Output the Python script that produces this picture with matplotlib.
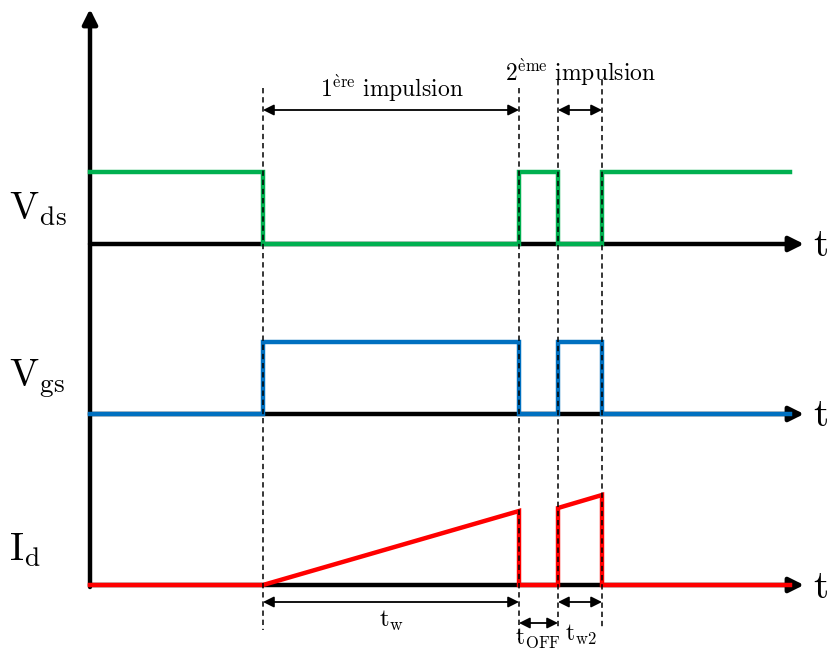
import matplotlib
matplotlib.use("Agg")
import matplotlib.pyplot as plt

plt.rcParams['mathtext.fontset'] = 'cm'
plt.rcParams['font.family'] = 'serif'

# time axis (drawing units, left to right)
t_axis = 90
t_end = 790
t_arrow = 804
switch_t = [263, 519, 558, 602]   # pulse 1 on, pulse 1 off, pulse 2 on, pulse 2 off

# baselines and amplitude of each trace (drawing units, top to bottom)
rows = ['Vds', 'Vgs', 'Id']
baseline = {'Vds': 244, 'Vgs': 414, 'Id': 585}
amp = 72
row_labels = {'Vds': r'$\mathrm{V_{ds}}$', 'Vgs': r'$\mathrm{V_{gs}}$', 'Id': r'$\mathrm{I_{d}}$'}

# logic level on each interval: before, pulse1, off, pulse2, after
vds_state = [1, 0, 1, 0, 1]
vgs_state = [0, 1, 0, 1, 0]
# drain current at interval edges (rise of ramp)
id_p1_end = 74
id_p2_start = 77
id_p2_end = 90

col = {'Vds': '#00b050', 'Vgs': '#0070c0', 'Id': '#ff0000'}


def step_trace(states, base):
    edges = [t_axis] + switch_t + [t_end]
    xs, ys = [], []
    for i, s in enumerate(states):
        xs += [edges[i], edges[i + 1]]
        ys += [base - s * amp, base - s * amp]
    return xs, ys


fig = plt.figure(figsize=(8.31, 6.52), dpi=100)
ax = fig.add_axes([0, 0, 1, 1])
ax.set_xlim(0, 831)
ax.set_ylim(652, 0)
ax.axis('off')

# vertical axis
ax.annotate('', xy=(t_axis, 9), xytext=(t_axis, baseline['Id'] + 2),
            arrowprops=dict(arrowstyle='-|>', lw=3.2, color='black', mutation_scale=22,
                            shrinkA=0, shrinkB=0), zorder=1)

# time axes
for r in rows:
    ax.annotate('', xy=(t_arrow, baseline[r]), xytext=(t_axis, baseline[r]),
                arrowprops=dict(arrowstyle='-|>', lw=3.2, color='black', mutation_scale=22,
                                shrinkA=0, shrinkB=0), zorder=1)
    ax.text(813, baseline[r] + 2, r'$\mathrm{t}$', fontsize=28, va='center', ha='left')
    ax.text(9, baseline[r] - 35, row_labels[r], fontsize=28, va='center', ha='left')

# Vds and Vgs
x, y = step_trace(vds_state, baseline['Vds'])
ax.plot(x, y, color=col['Vds'], lw=3.2, solid_joinstyle='miter', zorder=3)
x, y = step_trace(vgs_state, baseline['Vgs'])
ax.plot(x, y, color=col['Vgs'], lw=3.2, solid_joinstyle='miter', zorder=3)

# Id
b = baseline['Id']
id_x = [t_axis, switch_t[0], switch_t[1], switch_t[1], switch_t[2], switch_t[2],
        switch_t[3], switch_t[3], t_end]
id_y = [b, b, b - id_p1_end, b, b, b - id_p2_start, b - id_p2_end, b, b]
ax.plot(id_x, id_y, color=col['Id'], lw=3.2, solid_joinstyle='miter', zorder=3)

# dashed markers
dash_top = [88, 88, 80, 80]
dash_bot = [630, 640, 628, 628]
for t, y0, y1 in zip(switch_t, dash_top, dash_bot):
    ax.plot([t, t], [y0, y1], color='black', lw=1.1, ls=(0, (3.5, 2.5)), zorder=4)


def dim(x0, x1, yy):
    ax.annotate('', xy=(x1, yy), xytext=(x0, yy),
                arrowprops=dict(arrowstyle='<|-|>', lw=1.3, color='black', mutation_scale=16,
                                shrinkA=0, shrinkB=0))


dim(switch_t[0], switch_t[1], 110)
dim(switch_t[2], switch_t[3], 110)
dim(switch_t[0], switch_t[1], 602)
dim(switch_t[1], switch_t[2], 623)
dim(switch_t[2], switch_t[3], 602)

ax.text(392, 88, r'$\mathrm{1^{\grave{e}re}\ impulsion}$', fontsize=17, ha='center', va='center')
ax.text(580, 72, r'$\mathrm{2^{\grave{e}me}\ impulsion}$', fontsize=17, ha='center', va='center')
ax.text(392, 621, r'$\mathrm{t_w}$', fontsize=18, ha='center', va='center')
ax.text(538, 638, r'$\mathrm{t_{OFF}}$', fontsize=17, ha='center', va='center')
ax.text(581, 635, r'$\mathrm{t_{w2}}$', fontsize=17, ha='center', va='center')

fig.savefig('out.png', dpi=100)
